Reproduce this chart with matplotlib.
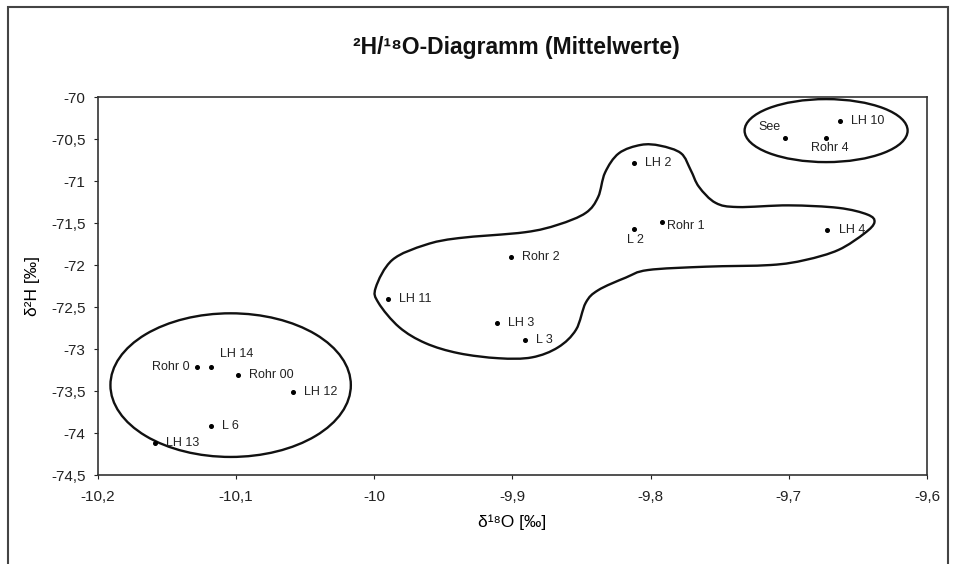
import matplotlib
matplotlib.use("Agg")
import matplotlib.pyplot as plt
import numpy as np
from matplotlib.patches import Ellipse, Rectangle, PathPatch
from matplotlib.path import Path
from matplotlib.ticker import FuncFormatter

plt.rcParams['font.family'] = ['Liberation Sans', 'DejaVu Sans']

# sample names and mean values
names = ["LH 13", "L 6", "Rohr 0", "LH 14", "Rohr 00", "LH 12",
         "LH 11", "Rohr 2", "LH 3", "L 3", "L 2", "LH 2", "Rohr 1", "LH 4",
         "See", "Rohr 4", "LH 10"]
d18O = [-10.159, -10.118, -10.128, -10.118, -10.099, -10.059,
        -9.990, -9.901, -9.911, -9.891, -9.812, -9.812, -9.792, -9.672,
        -9.703, -9.673, -9.663]
d2H = [-74.12, -73.92, -73.21, -73.21, -73.31, -73.51,
       -72.40, -71.90, -72.69, -72.89, -71.57, -70.79, -71.49, -71.58,
       -70.49, -70.49, -70.29]

# hand drawn groups
ell_left = (-10.104, -73.43, 0.174, 1.71)
ell_right = (-9.673, -70.40, 0.118, 0.75)
blob_x = [-9.999, -9.987, -9.963, -9.939, -9.891, -9.867, -9.847, -9.838, -9.833,
          -9.823, -9.807, -9.793, -9.778, -9.771, -9.765, -9.753, -9.737, -9.700,
          -9.664, -9.643, -9.638, -9.645, -9.664, -9.688, -9.713, -9.760, -9.802,
          -9.818, -9.838, -9.847, -9.854, -9.867, -9.886, -9.910, -9.939, -9.963,
          -9.982, -9.997]
blob_y = [-72.27, -71.94, -71.76, -71.68, -71.61, -71.52, -71.38, -71.19, -70.90,
          -70.67, -70.57, -70.58, -70.67, -70.87, -71.07, -71.26, -71.31, -71.29,
          -71.32, -71.40, -71.49, -71.62, -71.82, -71.94, -72.00, -72.02, -72.06,
          -72.15, -72.30, -72.45, -72.77, -72.98, -73.10, -73.11, -73.05, -72.93,
          -72.74, -72.45]

# label placement (offset in points, alignment)
lab_off = {"Rohr 0": (-6, 0, 'right'), "LH 14": (6, 9, 'left'), "L 2": (1, -8, 'center'),
           "Rohr 1": (4, -3, 'left'), "See": (-3, 8, 'right'), "Rohr 4": (3, -7, 'center')}

fig = plt.figure(figsize=(9.58, 5.64), dpi=100)
ax = fig.add_axes([0.1023, 0.1578, 0.8653, 0.6702])

ax.plot(d18O, d2H, 'o', color='black', markersize=2.6, linestyle='none')
for n, xv, yv in zip(names, d18O, d2H):
    dx, dy, ha = lab_off.get(n, (8, 0, 'left'))
    ax.annotate(n, (xv, yv), xytext=(dx, dy), textcoords='offset points',
                ha=ha, va='center', fontsize=9, color='#222222')

for cx, cy, w, h in (ell_left, ell_right):
    ax.add_patch(Ellipse((cx, cy), w, h, fill=False, edgecolor='#111111', lw=1.7))

# closed smooth curve through blob points (Catmull-Rom -> Bezier)
P = np.column_stack([blob_x, blob_y])
n = len(P)
verts = [P[0]]
codes = [Path.MOVETO]
for i in range(n):
    p0, p1, p2, p3 = P[i - 1], P[i], P[(i + 1) % n], P[(i + 2) % n]
    verts += [p1 + (p2 - p0) / 6, p2 - (p3 - p1) / 6, p2]
    codes += [Path.CURVE4] * 3
ax.add_patch(PathPatch(Path(verts, codes), fill=False, edgecolor='#111111', lw=1.7))

ax.set_xlim(-10.2, -9.6)
ax.set_ylim(-74.5, -70)
ax.set_xticks(np.arange(-10.2, -9.59, 0.1))
ax.set_yticks(np.arange(-74.5, -69.99, 0.5))
fmt = FuncFormatter(lambda v, p: ('%g' % round(v, 2)).replace('.', ','))
ax.xaxis.set_major_formatter(fmt)
ax.yaxis.set_major_formatter(fmt)
ax.tick_params(direction='out', length=3, width=0.8, labelsize=11, colors='#222222')
ax.tick_params(axis='y', pad=6)
ax.tick_params(axis='x', pad=8)
for s in ax.spines.values():
    s.set_color('#333333')
    s.set_linewidth(1.2)

ax.set_xlabel('δ¹⁸O [‰]', fontsize=12.5, labelpad=7)
ax.set_ylabel('δ²H [‰]', fontsize=12.5, labelpad=8)
fig.text(0.5386, 0.916, '²H/¹⁸O-Diagramm (Mittelwerte)', ha='center', va='center',
         fontsize=16.5, fontweight='bold', color='#111111')

fig.patches.append(Rectangle((0.0084, -0.02), 0.981, 1.0076, transform=fig.transFigure,
                             fill=False, edgecolor='#444444', lw=1.5))

fig.savefig('out.png', dpi=100, facecolor='white')
